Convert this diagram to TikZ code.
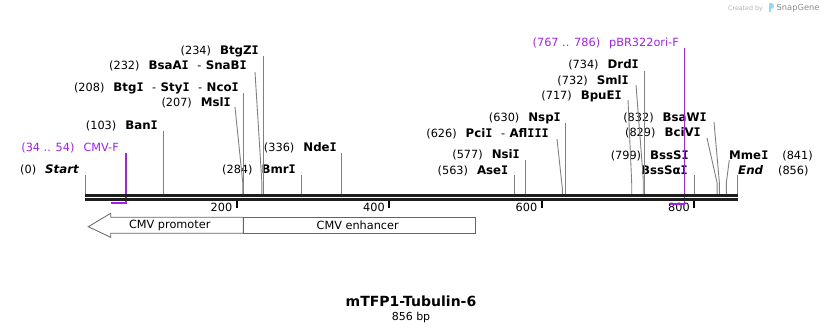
\documentclass[tikz,border=0pt]{standalone}
\usepackage{fontspec}
\setmainfont{DejaVu Sans}
\newfontfamily\monob{DejaVu Sans Mono}
\definecolor{primer}{RGB}{160,32,240}
\definecolor{siteline}{RGB}{128,128,128}
\definecolor{bbone}{RGB}{30,30,30}
\definecolor{featline}{RGB}{100,100,100}
\definecolor{logoblue}{RGB}{150,215,245}
\newcommand{\nf}{\fontsize{11.3}{13}\selectfont}
\newcommand{\bn}[1]{{\fontsize{11.8}{13}\selectfont\bfseries #1}}
\newcommand{\bI}{{\monob I}}
\newcommand{\dsep}{\hspace{8.5pt}-\hspace{4.5pt}}
\newcommand{\ngap}{\hspace{9pt}}
\begin{document}
\begin{tikzpicture}[x=1pt,y=-1pt,
  lbl/.style={inner sep=0pt, anchor=base east, font=\nf},
  lblw/.style={inner sep=0pt, anchor=base west, font=\nf},
  plbl/.style={lbl, text=primer},
  sline/.style={siteline, line width=0.9pt},
  pline/.style={primer, line width=1.5pt},
  bbline/.style={bbone, line width=2.8pt},
  tick/.style={black, line width=2pt},
  ticklbl/.style={inner sep=0pt, anchor=base east, font=\nf},
  feat/.style={draw=featline, fill=white, line width=0.8pt},
  featlbl/.style={inner sep=0pt, font=\nf}]
\useasboundingbox (0,0) rectangle (824,333);

% watermark
\node[inner sep=0pt, anchor=base east, font=\fontsize{6.3}{7}\selectfont, text=black!30] (wm1) at (763,10) {Created by};
\fill[logoblue] (768.5,3) rectangle (770.5,12);
\fill[logoblue] (770.5,3) .. controls (775,3) and (775,9) .. (770.5,9) -- cycle;
\node[inner sep=0pt, anchor=base west, font=\fontsize{8.3}{9}\selectfont, text=black!45] (wm2) at (776.5,10.5) {SnapGene};

% ---- labels ----
\node[lbl] (btgzi) at (259,54.2) {(234)\ngap\bn{BtgZ\bI}};
\node[lbl] (snabi) at (247,69.2) {(232)\ngap\bn{BsaA\bI}\dsep\bn{SnaB\bI}};
\node[lbl] (ncoi) at (239,91.2) {(208)\ngap\bn{Btg\bI}\dsep\bn{Sty\bI}\dsep\bn{Nco\bI}};
\node[lbl] (msli) at (231,106.2) {(207)\ngap\bn{Msl\bI}};
\node[lbl] (bani) at (158,129.2) {(103)\ngap\bn{Ban\bI}};
\node[plbl] (cmvf) at (119,151.2) {(34 .. 54)\ngap CMV-F};
\node[lbl] (start) at (79,173.2) {(0)\ngap\bn{\itshape Start}};
\node[lbl] (bmri) at (296,173.2) {(284)\ngap\bn{Bmr\bI}};
\node[lbl] (ndei) at (337,151.2) {(336)\ngap\bn{Nde\bI}};
\node[lbl] (asei) at (508.5,174.2) {(563)\ngap\bn{Ase\bI}};
\node[lbl] (nsii) at (520,158.2) {(577)\ngap\bn{Nsi\bI}};
\node[lbl] (pcii) at (549,137.2) {(626)\ngap\bn{Pci\bI}\dsep\bn{Afl\bI\bI\bI}};
\node[lbl] (nspi) at (561,121.2) {(630)\ngap\bn{Nsp\bI}};
\node[lbl] (bpuei) at (622,99.2) {(717)\ngap\bn{BpuE\bI}};
\node[lbl] (smli) at (629,84.2) {(732)\ngap\bn{Sml\bI}};
\node[lbl] (drdi) at (639,68.2) {(734)\ngap\bn{Drd\bI}};
\node[plbl] (ori) at (679,46.2) {(767 .. 786)\ngap pBR322ori-F};
\node[lbl] (bsawi) at (707,121.2) {(832)\ngap\bn{BsaW\bI}};
\node[lbl] (bcivi) at (701,136.2) {(829)\ngap\bn{BciV\bI}};
\node[lbl] (bsssi) at (689,159.2) {(799)\ngap\bn{BssS\bI}};
\node[lbl] (bsssai) at (688,174.2) {\bn{BssSα\bI}};
\node[lblw] (mmei) at (729,159.2) {\bn{Mme\bI}\hspace{14pt}(841)};
\node[lblw] (endl) at (738,174.2) {\bn{\itshape End}\hspace{15pt}(856)};

% ---- site lines ----
\draw[sline] (263.4,56) -- (263.4,194);
\draw[sline] (255,72) -- (261.9,183) -- (261.9,194);
\draw[sline] (243.6,93) -- (243.6,194);
\draw[sline] (235,107) -- (242.8,183) -- (242.8,194);
\draw[sline] (163.5,131) -- (163.5,194);
\draw[sline] (85,175) -- (85,194);
\draw[sline] (301.6,175) -- (301.6,194);
\draw[sline] (341.2,153) -- (341.2,194);
\draw[sline] (514.3,175) -- (514.3,194);
\draw[sline] (525,160) -- (525,194);
\draw[sline] (557,139) -- (562.3,188) -- (562.3,194);
\draw[sline] (565.4,123) -- (565.4,194);
\draw[sline] (628,100) -- (631.7,183) -- (631.7,194);
\draw[sline] (636,85) -- (643.2,178) -- (643.2,194);
\draw[sline] (644.7,71) -- (644.7,194);
\draw[sline] (714,122) -- (719.4,183) -- (719.4,194);
\draw[sline] (707,138) -- (717.1,183) -- (717.1,194);
\draw[sline] (694.2,175) -- (694.2,194);
\draw[sline] (729.3,160) -- (726.3,183) -- (726.3,194);
\draw[sline] (737.7,175) -- (737.7,194);

% ---- ticks ----
\draw[tick] (236.8,200.5) -- (236.8,208);
\draw[tick] (389.2,200.5) -- (389.2,208);
\draw[tick] (541.7,200.5) -- (541.7,208);
\draw[tick] (694.3,200.5) -- (694.3,208);
\node[ticklbl] (t200) at (232.5,211.5) {200};
\node[ticklbl] (t400) at (385,211.5) {400};
\node[ticklbl] (t600) at (537.5,211.5) {600};
\node[ticklbl] (t800) at (690,211.5) {800};

% ---- primers ----
\draw[pline] (126.2,153) -- (126.2,203.2) -- (110.9,203.2);
\draw[pline] (684.3,48) -- (684.3,203.8) -- (669.8,203.8);

% ---- backbone ----
\draw[bbline] (85,195.3) -- (738,195.3);
\draw[bbline] (85,199.4) -- (738,199.4);

% ---- features ----
\draw[feat] (88.3,226.7) -- (110.7,213.3) -- (110.7,217.3) -- (243.3,217.3) -- (243.3,233.3) -- (110.7,233.3) -- (110.7,237.3) -- cycle;
\draw[feat] (243.3,217.3) rectangle (475.7,233.3);
\node[featlbl] (prom) at (169.7,225.7) {CMV promoter};
\node[featlbl] (enh) at (357.7,225.7) {CMV enhancer};

% ---- title ----
\node[inner sep=0pt, font=\fontsize{14}{16}\selectfont\bfseries] (title) at (411,301) {mTFP1-Tubulin-6};
\node[inner sep=0pt, font=\fontsize{11}{13}\selectfont] (len) at (411,317) {856 bp};
\end{tikzpicture}
\end{document}
